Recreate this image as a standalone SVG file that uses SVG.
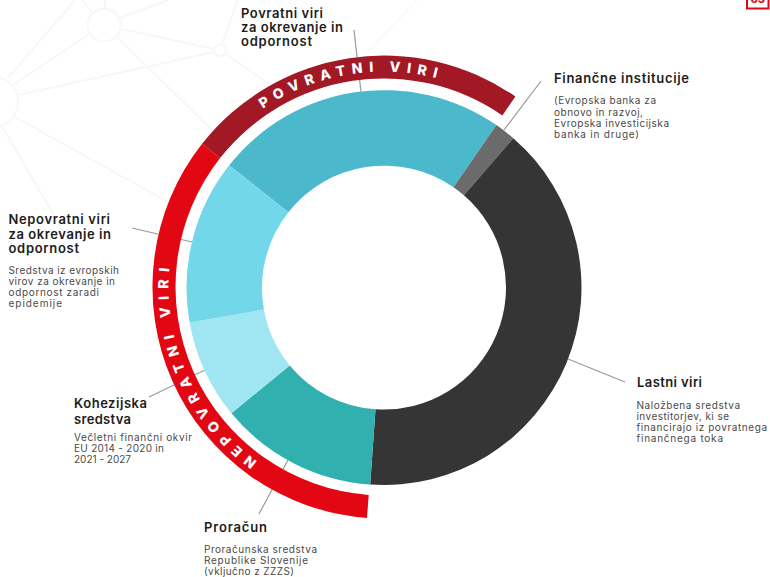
<svg xmlns="http://www.w3.org/2000/svg" width="770" height="577" viewBox="0 0 770 577">
<style>
text{font-family:"Inter","Liberation Sans",sans-serif}
.h{font-size:13px;font-weight:600;fill:#1d1d1b}
.b{font-size:10px;fill:#4a4a4a}
.ring{font-size:14px;font-weight:800;fill:#fff;letter-spacing:6.4px}
.ring2{letter-spacing:7px}
.bg{fill:none;stroke:#f7f7f7;stroke-width:2}
.bgf{fill:none;stroke:#fbfbfb;stroke-width:2}
.c{fill:none;stroke:#9a9a9a;stroke-width:1.2}
</style>
<defs>
<path id="arcTop" d="M260.4 110.5A215.5 215.5 0 0 1 522.5 122"/>
<path id="arcLeft" d="M257.3 461.3A215.5 215.5 0 0 1 171.8 249.6"/>
</defs>
<g id="background">
<circle class="bg" cx="104" cy="25" r="16.5"/>
<circle class="bg" cx="220" cy="50.5" r="6"/>
<circle class="bg" cx="-8" cy="102" r="26"/>
<path class="bg" d="M122 29L214 49M214 52L18 95M13 85L88 35M8 78L75 0M120 18L168 0M92 12L82 0M105 8V0M117 37L214 132M222 44L238 0M226 54L272 86M15 117L170 203M3 128L80 260"/>
<path class="bgf" d="M367 53L417 0"/>
</g>
<g id="connectors">
<path class="c" d="M354 30L361 92"/>
<path class="c" d="M541 81L504 130"/>
<path class="c" d="M132 228L192 242"/>
<path class="c" d="M149 397L205 370"/>
<path class="c" d="M259 514L288 460"/>
<path class="c" d="M568 359L625 382"/>
</g>
<g id="donut">
<path id="slice-povratni" fill="#4bb8cb" d="M229.2 165.3A197.5 197.5 0 0 1 496.4 125.1L453.5 187.2A122 122 0 0 0 288.4 212.2Z"/>
<path id="slice-institucije" fill="#6b6b6b" d="M496.4 125.1A197.5 197.5 0 0 1 513.3 138.2L463.9 195.3A122 122 0 0 0 453.5 187.2Z"/>
<path id="slice-lastni" fill="#353535" d="M513.3 138.2A197.5 197.5 0 0 1 370.2 484.5L375.5 409.2A122 122 0 0 0 463.9 195.3Z"/>
<path id="slice-proracun" fill="#30b1b0" d="M370.2 484.5A197.5 197.5 0 0 1 231.4 413.3L289.7 365.4A122 122 0 0 0 375.5 409.2Z"/>
<path id="slice-kohezijska" fill="#a0e6f2" d="M231.4 413.3A197.5 197.5 0 0 1 189.6 322.5L263.9 309.6A122 122 0 0 0 289.7 365.4Z"/>
<path id="slice-nepovratni" fill="#72d7e8" d="M189.6 322.5A197.5 197.5 0 0 1 229.2 165.3L288.4 212.2A122 122 0 0 0 263.9 309.6Z"/>
</g>
<g id="ring-povratni">
<path fill="#a21925" d="M202.1 143.8A231.5 231.5 0 0 1 515.4 96.5L502.4 115.4A208.5 208.5 0 0 0 220.1 158.1Z"/>
<text class="ring"><textPath href="#arcTop" startOffset="3">POVRATNI VIRI</textPath></text>
</g>
<g id="ring-nepovratni">
<path fill="#e30613" d="M367 517.9A231.5 231.5 0 0 1 202.1 143.8L220.1 158.1A208.5 208.5 0 0 0 368.7 494.9Z"/>
<text class="ring ring2"><textPath href="#arcLeft">NEPOVRATNI VIRI</textPath></text>
</g>
<g id="label-povratni">
<text class="h" x="241" y="18" textLength="82">Povratni viri</text>
<text class="h" x="241" y="32" textLength="102">za okrevanje in</text>
<text class="h" x="241" y="46" textLength="71">odpornost</text>
</g>
<g id="label-institucije">
<text class="h" x="554" y="83" textLength="135">Finančne institucije</text>
<text class="b" x="554" y="104" textLength="102">(Evropska banka za</text>
<text class="b" x="554" y="116" textLength="89">obnovo in razvoj,</text>
<text class="b" x="554" y="127" textLength="115">Evropska investicijska</text>
<text class="b" x="554" y="138" textLength="85">banka in druge)</text>
</g>
<g id="label-nepovratni">
<text class="h" x="8.500" y="224" textLength="101.500">Nepovratni viri</text>
<text class="h" x="8.500" y="239" textLength="102.500">za okrevanje in</text>
<text class="h" x="8.500" y="253" textLength="70.500">odpornost</text>
<text class="b" x="8.500" y="274" textLength="110.500">Sredstva iz evropskih</text>
<text class="b" x="8.500" y="285" textLength="106.500">virov za okrevanje in</text>
<text class="b" x="8.500" y="296" textLength="90.500">odpornost zaradi</text>
<text class="b" x="8.500" y="307" textLength="53.500">epidemije</text>
</g>
<g id="label-kohezijska">
<text class="h" x="74" y="408" textLength="73">Kohezijska</text>
<text class="h" x="74" y="424" textLength="57">sredstva</text>
<text class="b" x="74" y="441" textLength="118">Večletni finančni okvir</text>
<text class="b" x="74" y="452" textLength="90">EU 2014 - 2020 in</text>
<text class="b" x="74" y="463" textLength="57">2021 - 2027</text>
</g>
<g id="label-proracun">
<text class="h" x="204" y="532" textLength="63">Proračun</text>
<text class="b" x="204" y="553" textLength="113">Proračunska sredstva</text>
<text class="b" x="204" y="564" textLength="104">Republike Slovenije</text>
<text class="b" x="204" y="575" textLength="90">(vključno z ZZZS)</text>
</g>
<g id="label-lastni">
<text class="h" x="637" y="387" textLength="65">Lastni viri</text>
<text class="b" x="636.500" y="409" textLength="103.500">Naložbena sredstva</text>
<text class="b" x="636.500" y="420" textLength="92.500">investitorjev, ki se</text>
<text class="b" x="636.500" y="431" textLength="130.500">financirajo iz povratnega</text>
<text class="b" x="636.500" y="442" textLength="86.500">finančnega toka</text>
</g>
<g id="page-number">
<rect x="747" y="-6" width="21.500" height="14.500" fill="none" stroke="#e30613" stroke-width="2"/>
<text x="757.700" y="3" text-anchor="middle" font-size="11" font-weight="800" fill="#e30613">63</text>
</g>
</svg>
